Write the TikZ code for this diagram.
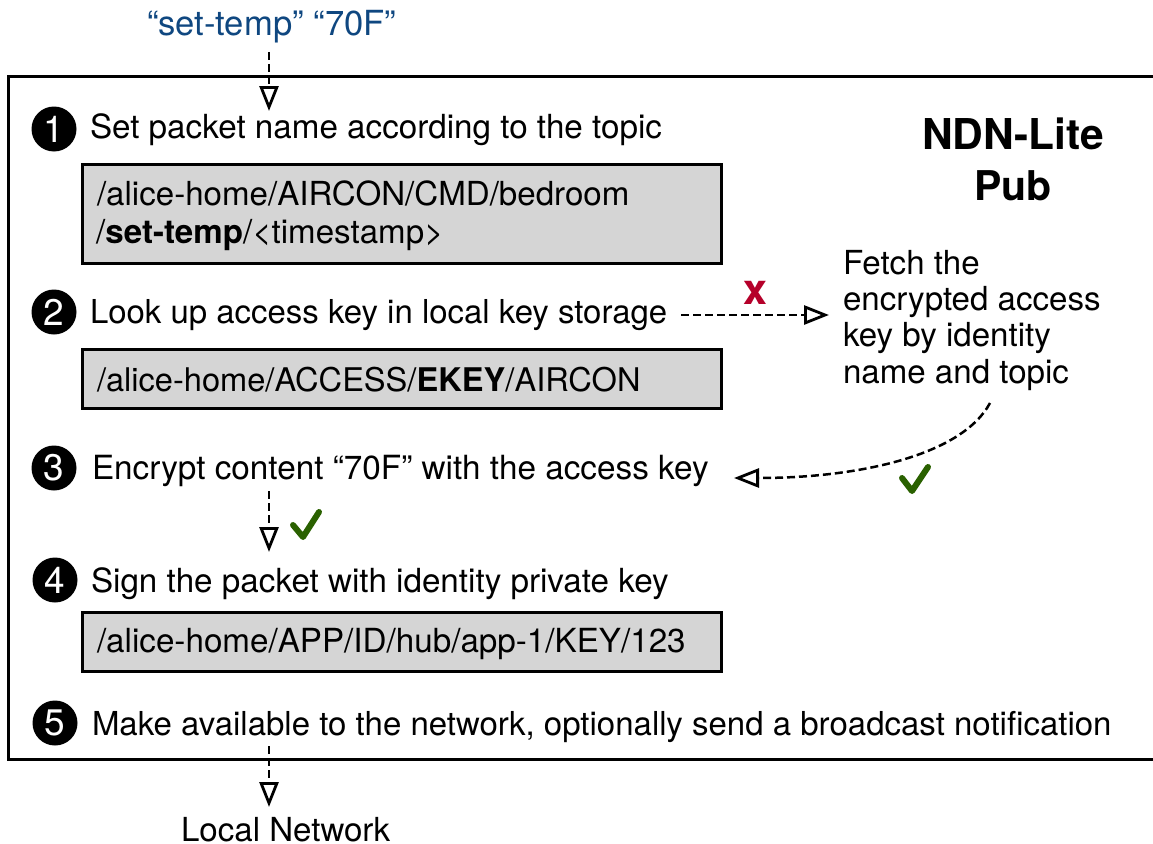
\documentclass[tikz,border=0pt]{standalone}
\usepackage{fontspec}
\setmainfont{TeX Gyre Heros}
\usetikzlibrary{arrows.meta}
\definecolor{topicblue}{HTML}{0F4780}
\definecolor{okgreen}{HTML}{2A6100}
\definecolor{nored}{HTML}{B5002A}
\definecolor{boxgray}{HTML}{D5D5D5}
\tikzset{
  x=1pt,y=-1pt,
  label/.style={anchor=base west,inner sep=0pt,outer sep=0pt,font=\fontsize{33.1}{33}\selectfont},
  sized/.style={font=\fontsize{#1}{33}\selectfont},
  frame/.style={draw=black,line width=3pt},
  keybox/.style={draw=black,line width=3pt,fill=boxgray,outer sep=0pt},
  num/.style={circle,fill=black,text=white,minimum size=45pt,inner sep=0pt,font=\fontsize{37}{37}\selectfont},
  flow/.style={draw=black,line width=2.5pt,dash pattern=on 8pt off 4pt,-{Triangle[open,fill=white,length=25pt,width=19pt,line width=2.8pt]}},
  tick/.style={draw=okgreen,line width=6pt,line cap=round,line join=round},
}
\begin{document}
\begin{tikzpicture}
\useasboundingbox (0,0) rectangle (1153,843);
\path[frame] (8,76) -- (1160,76) -- (1160,759) -- (8,759) -- cycle;
\node[keybox,anchor=north west,minimum width=639pt,minimum height=99pt,inner sep=0pt] (b1) at (82,164) {};
\node[keybox,anchor=north west,minimum width=639pt,minimum height=59pt,inner sep=0pt] (b2) at (82,349) {};
\node[keybox,anchor=north west,minimum width=639pt,minimum height=59pt,inner sep=0pt] (b3) at (82,612) {};

\node[label,text=topicblue,sized=34.6] (topic) at (147,35.5) {“set-temp” “70F”};
\node[num] (n1) at (54,129) {1};
\node[num] (n2) at (54,312) {2};
\node[num] (n3) at (54,468) {3};
\node[num] (n4) at (55,580) {4};
\node[num] (n5) at (55,723) {5};
\node[label,sized=33.2] (s1) at (90,138) {Set packet name according to the topic};
\node[label,sized=32.95] (s2) at (90,323) {Look up access key in local key storage};
\node[label,sized=33.3] (s3) at (92,479) {Encrypt content “70F” with the access key};
\node[label,sized=33.2] (s4) at (91,592) {Sign the packet with identity private key};
\node[label,sized=33] (s5) at (92,735) {Make available to the network, optionally send a broadcast notification};
\node[label] (t1a) at (97,205.5) {/alice-home/AIRCON/CMD/bedroom};
\node[label] (t1b) at (96,243.5) {/\textbf{set-temp}/<timestamp>};
\node[label,sized=32.6] (t2) at (97,391.5) {/alice-home/ACCESS/\textbf{EKEY}/AIRCON};
\node[label,sized=33.2] (t3) at (97,652.5) {/alice-home/APP/ID/hub/app-1/KEY/123};
\node[label] (f1) at (843,274) {Fetch the};
\node[label] (f2) at (843,310) {encrypted access};
\node[label] (f3) at (843,346) {key by identity};
\node[label] (f4) at (843,383) {name and topic};
\node[label,anchor=base,font=\fontsize{42.5}{42}\selectfont\bfseries] (title1) at (1013,149) {NDN-Lite};
\node[label,anchor=base,font=\fontsize{41}{42}\selectfont\bfseries] (title2) at (1013,200) {Pub};
\node[label] (net) at (181,841) {Local Network};
\node[label,anchor=base,text=nored,font=\fontsize{43}{43}\selectfont\bfseries] (cross) at (755.5,304) {x};

\coordinate (a1s) at (269,52);  \coordinate (a1e) at (269,111);
\coordinate (a2s) at (681,315); \coordinate (a2e) at (829,315);
\coordinate (a3s) at (990,403); \coordinate (a3e) at (734,478);
\coordinate (a4s) at (269,491); \coordinate (a4e) at (269,552);
\coordinate (a5s) at (269,746); \coordinate (a5e) at (269,807);
\path[flow] (a1s) -- (a1e);
\path[flow] (a2s) -- (a2e);
\path[flow] (a3s) .. controls (962,455) and (860,478) .. (a3e);
\path[flow] (a4s) -- (a4e);
\path[flow] (a5s) -- (a5e);
\path[tick] (902,478) -- (912,491) -- (928,467);
\path[tick] (293,525) -- (303,537) -- (319,512);
\end{tikzpicture}
\end{document}
